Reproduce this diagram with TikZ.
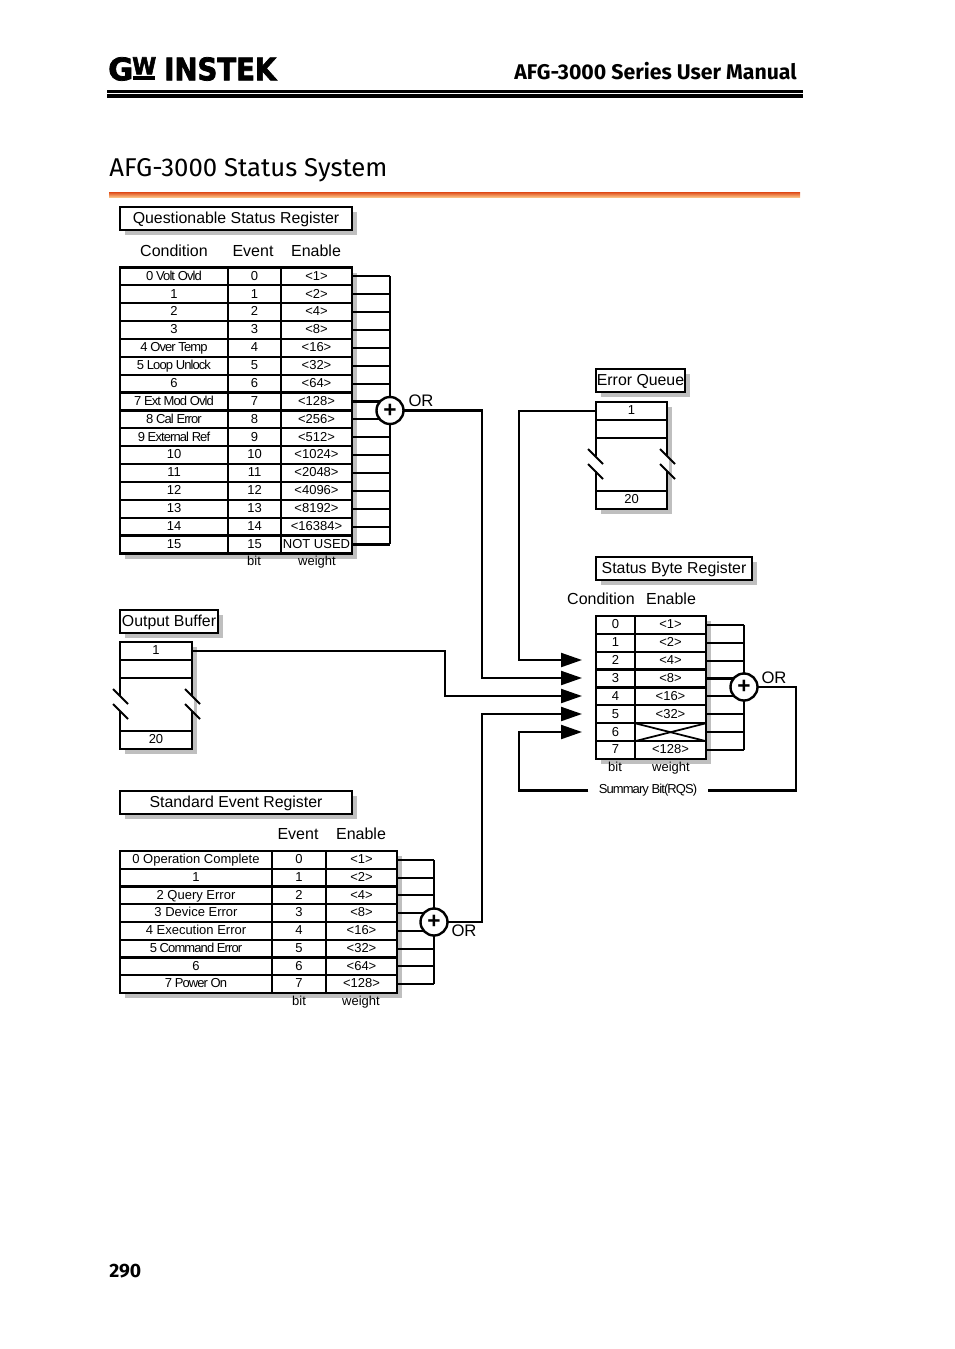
\documentclass[tikz,border=0pt]{standalone}
\usepackage{fontspec}
\usepackage{graphicx}
\setmainfont{Liberation Sans}
\newfontfamily\tightfont[LetterSpace=-7]{Liberation Sans}
\newfontfamily\headfont{Fira Sans}
\newfontfamily\logofont[BoldFeatures={FakeBold=2.5}]{DejaVu Sans}
\usetikzlibrary{arrows.meta, shadows, positioning}
\newdimen\px
\px=0.75pt
\definecolor{ruletop}{RGB}{222,72,22}
\definecolor{rulebot}{RGB}{250,190,130}
\tikzset{
    cellbox/.style={draw, line width=1.6pt, inner sep=0pt, outer sep=0pt, minimum height=17.9\px, text height=7.6\px, text depth=0pt, font=\fontsize{9.75}{10}\selectfont},
    regframe/.style={draw, line width=1.8pt, inner sep=0pt, outer sep=0pt, fill=white, drop shadow={shadow xshift=5\px, shadow yshift=-5\px, fill=black!25, opacity=1}},
    titlebox/.style={regframe, text height=11.6\px, text depth=1\px, font=\fontsize{11.9}{13}\selectfont},
    collabel/.style={font=\fontsize{12}{13}\selectfont, inner sep=0pt},
    smalllabel/.style={font=\fontsize{9.75}{10}\selectfont, inner sep=0pt, anchor=base},
    orlabel/.style={font=\fontsize{12.5}{13}\selectfont, inner sep=0pt},
    orgate/.style={circle, draw, line width=1.8pt, fill=white, inner sep=0pt, outer sep=0pt, minimum size=27\px, font=\bfseries\fontsize{17}{17}\selectfont},
    wire/.style={line width=1.6pt},
    inwire/.style={line width=1.6pt, -{Triangle[length=15.75pt, width=10.5pt]}},
    slash/.style={line width=1.5pt}
}
\begin{document}
\begin{tikzpicture}[x=0.75pt, y=-0.75pt]
    \useasboundingbox (0,0) rectangle (954,1349);

    % Page header
    \node[inner sep=0pt, anchor=north west] (logog) at (108,57) {\resizebox{25\px}{23\px}{\logofont\bfseries G}};
    \node[inner sep=0pt, anchor=north west] (logow) at (132,57) {\resizebox{24\px}{17\px}{\logofont\bfseries W}};
    \node[inner sep=0pt, anchor=north west] (logoi) at (164,57) {\resizebox{112\px}{23\px}{\logofont\bfseries INSTEK}};
    \fill (133,76) rectangle (155,80);
    \node[anchor=east, inner sep=0pt, font=\headfont\bfseries\fontsize{15.95}{16}\selectfont] (manual) at (797,71.5) {AFG-3000 Series User Manual};
    \fill (107,90) rectangle (803,92.5);
    \fill (107,93.5) rectangle (803,98);

    % Section title
    \node[anchor=base west, inner sep=0pt, font=\headfont\fontsize{19.3}{20}\selectfont] (sectitle) at (109,176) {AFG-3000 Status System};
    \shade[top color=ruletop, middle color=ruletop, bottom color=rulebot] (109,192) rectangle (800,197);

    % Questionable Status Register
    \node[titlebox, minimum width=232\px, minimum height=23\px] (qtitle) at (236,218.5) {Questionable Status Register};
    \node[collabel] (qcond) at (174,251) {Condition};
    \node[collabel] (qevent) at (253,251) {Event};
    \node[collabel] (qenable) at (316,251) {Enable};
    \node[regframe, minimum width=232\px, minimum height=286\px] (qframe) at (236,410.5) {};
    \foreach \i/\cname/\wname in {0/{\tightfont 0 Volt Ovld}/<1>, 1/1/<2>, 2/2/<4>, 3/3/<8>, 4/{\tightfont 4 Over Temp}/<16>,
        5/{\tightfont 5 Loop Unlock}/<32>, 6/6/<64>, 7/{\tightfont 7 Ext Mod Ovld}/<128>, 8/{\tightfont 8 Cal Error}/<256>,
        9/{\tightfont 9 External Ref}/<512>, 10/10/<1024>, 11/11/<2048>, 12/12/<4096>, 13/13/<8192>, 14/14/<16384>, 15/15/NOT USED} {
        \node[cellbox, minimum width=108\px] (qc\i) at (174,{276.4+17.87*\i}) {\cname};
        \node[cellbox, minimum width=53\px] (qe\i) at (254.5,{276.4+17.87*\i}) {\i};
        \node[cellbox, minimum width=71\px] (qw\i) at (316.5,{276.4+17.87*\i}) {\wname};
    }
    \node[smalllabel] (qbit) at (254,565) {bit};
    \node[smalllabel] (qweight) at (317,565) {weight};
    \coordinate (qsum) at (390,410.5);
    \foreach \i in {0,...,15} {
        \draw[wire] (qw\i.east) -- (qw\i.east -| qsum);
    }
    \draw[wire] (qw0.east -| qsum) -- (qw15.east -| qsum);
    \node[orgate] (qor) at (qsum) {+};
    \node[orlabel] (qorl) at (421,401) {OR};

    % Error Queue
    \node[titlebox, minimum width=89\px, minimum height=23\px] (etitle) at (640.5,380.5) {Error Queue};
    \node[regframe, minimum width=71\px, minimum height=107\px] (eframe) at (631.5,455.5) {};
    \node[cellbox, minimum width=71\px] (e1) at (631.5,411) {1};
    \node[cellbox, minimum width=71\px] (e2) at (631.5,429) {};
    \node[cellbox, minimum width=71\px] (e20) at (631.5,500) {20};
    \fill[white] (594,456) rectangle (598,471);
    \fill[white] (665,456) rectangle (669,471);
    \draw[slash] (588,449) -- (603,464);
    \draw[slash] (588,464) -- (603,479);
    \draw[slash] (660,449) -- (675,464);
    \draw[slash] (660,464) -- (675,479);

    % Status Byte Register
    \node[titlebox, minimum width=156\px, minimum height=23\px] (stitle) at (674,568.5) {Status Byte Register};
    \node[collabel] (scond) at (601,599) {Condition};
    \node[collabel] (senable) at (671,599) {Enable};
    \node[regframe, minimum width=110\px, minimum height=143\px] (sframe) at (651,687.5) {};
    \foreach \i/\wname in {0/<1>, 1/<2>, 2/<4>, 3/<8>, 4/<16>, 5/<32>, 6/{}, 7/<128>} {
        \node[cellbox, minimum width=39\px] (sc\i) at (615.5,{624.8+17.9*\i}) {\i};
        \node[cellbox, minimum width=71\px] (sw\i) at (670.5,{624.8+17.9*\i}) {\wname};
    }
    \draw[line width=1.3pt] (sw6.north west) -- (sw6.south east);
    \draw[line width=1.3pt] (sw6.south west) -- (sw6.north east);
    \node[smalllabel] (sbit) at (615,771) {bit};
    \node[smalllabel] (sweight) at (671,771) {weight};
    \coordinate (ssum) at (744,687);
    \foreach \i in {0,...,7} {
        \draw[wire] (sw\i.east) -- (sw\i.east -| ssum);
    }
    \draw[wire] (sw0.east -| ssum) -- (sw7.east -| ssum);
    \node[orgate] (sor) at (ssum) {+};
    \node[orlabel] (sorl) at (774,678) {OR};
    \node[font=\fontsize{9.75}{10}\selectfont, inner sep=0pt, inner xsep=10\px] (rqs) at (648,790.5) {\tightfont Summary Bit(RQS)};

    % Output Buffer
    \node[titlebox, minimum width=98\px, minimum height=23\px] (otitle) at (169,621.5) {Output Buffer};
    \node[regframe, minimum width=72\px, minimum height=107\px] (oframe) at (156,695.5) {};
    \node[cellbox, minimum width=72\px] (o1) at (156,651) {1};
    \node[cellbox, minimum width=72\px] (o2) at (156,669) {};
    \node[cellbox, minimum width=72\px] (o20) at (156,740) {20};
    \fill[white] (118,696) rectangle (122,711);
    \fill[white] (190,696) rectangle (194,711);
    \draw[slash] (113,689) -- (128,704);
    \draw[slash] (113,704) -- (128,719);
    \draw[slash] (185,689) -- (200,704);
    \draw[slash] (185,704) -- (200,719);

    % Standard Event Register
    \node[titlebox, minimum width=232\px, minimum height=23\px] (dtitle) at (236,802.5) {Standard Event Register};
    \node[collabel] (devent) at (298,834) {Event};
    \node[collabel] (denable) at (361,834) {Enable};
    \node[regframe, minimum width=277\px, minimum height=142\px] (dframe) at (258.5,922) {};
    \foreach \i/\cname/\wname in {0/0 Operation Complete/<1>, 1/1/<2>, 2/2 Query Error/<4>, 3/3 Device Error/<8>,
        4/4 Execution Error/<16>, 5/{\tightfont 5 Command Error}/<32>, 6/6/<64>, 7/{\tightfont 7 Power On}/<128>} {
        \node[cellbox, minimum width=152\px, minimum height=17.75\px] (dc\i) at (196,{859.9+17.75*\i}) {\cname};
        \node[cellbox, minimum width=54\px, minimum height=17.75\px] (de\i) at (299,{859.9+17.75*\i}) {\i};
        \node[cellbox, minimum width=71\px, minimum height=17.75\px] (dw\i) at (361.5,{859.9+17.75*\i}) {\wname};
    }
    \node[smalllabel] (dbit) at (299,1005) {bit};
    \node[smalllabel] (dweight) at (361,1005) {weight};
    \coordinate (dsum) at (434,922);
    \foreach \i in {0,...,7} {
        \draw[wire] (dw\i.east) -- (dw\i.east -| dsum);
    }
    \draw[wire] (dw0.east -| dsum) -- (dw7.east -| dsum);
    \node[orgate] (dor) at (dsum) {+};
    \node[orlabel] (dorl) at (464,931) {OR};

    % Arrow ends in front of the Status Byte Register
    \coordinate (in2) at (582,660);
    \coordinate (in3) at (582,678);
    \coordinate (in4) at (582,696);
    \coordinate (in5) at (582,714);
    \coordinate (in6) at (582,732);

    % Connections
    \draw[inwire] (e1.west) -- (519,411) -- (519,660) -- (in2);
    \draw[inwire] (qor.east) -- (482,410.5) -- (482,678) -- (in3);
    \draw[inwire] (o1.east) -- (445,651) -- (445,696) -- (in4);
    \draw[inwire] (dor.east) -- (482,922) -- (482,714) -- (in5);
    \draw[inwire] (rqs.west) -- (519,790.5) -- (519,732) -- (in6);
    \draw[wire] (sor.east) -- (796,687) -- (796,790.5) -- (rqs.east);

    % Page number
    \node[anchor=base west, inner sep=0pt, font=\headfont\bfseries\fontsize{14.5}{16}\selectfont] (pagenum) at (109,1277) {290};
\end{tikzpicture}
\end{document}
